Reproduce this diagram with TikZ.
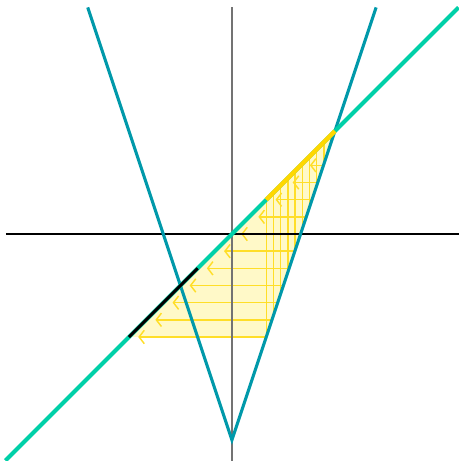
\documentclass[tikz,border=0pt]{standalone}
\usepackage{xcolor}
\usetikzlibrary{arrows.meta}
\definecolor{tealline}{RGB}{0,153,170}
\definecolor{greenline}{RGB}{0,208,168}
\definecolor{goldline}{RGB}{255,215,0}
\definecolor{fillyel}{RGB}{255,249,200}
\definecolor{hatchyel}{RGB}{255,222,40}
\tikzset{
  hatch/.style={hatchyel,line width=0.4pt},
  flow/.style={hatch,-{Straight Barb[length=0.5mm,width=1.3mm]}},
  curve/.style={line width=0.85pt}
}
\begin{document}
\begin{tikzpicture}
    \useasboundingbox (-2.252,-2.204) rectangle (2.204,2.272);
    % --- shaded region between y=x, y=-1 and y=3x-2
    \fill[fillyel] (-1,-1) -- (1/3,-1) -- (1,1) -- cycle;
    \foreach \k in {-6,...,4}
      {\draw[flow] ({(\k/6+2)/3},\k/6) -- ({\k/6+0.09},\k/6);}
    \foreach \i in {0,...,9}
      {\draw[hatch] ({1/3+0.07*\i},{3*(1/3+0.07*\i)-2}) -- ({1/3+0.07*\i},{1/3+0.07*\i});}
    % --- axes
    \draw[black!55,line width=0.35pt] (0,-2.204) -- (0,2.204);
    \draw[black,line width=0.35pt] (-2.194,0) -- (2.204,0);
    % --- the two lines y=-3x-2 and y=3x-2
    \draw[tealline,curve] (-1.4,2.2) -- (0,-2) -- (1.4,2.2);
    % --- diagonal y=x with its marked pieces
    \draw[greenline,line width=1.1pt] (-2.2,-2.2) -- (2.2,2.2);
    \draw[black,curve] (-1,-1) -- (-1/3,-1/3);
    \draw[goldline,line width=1.2pt] (1/3,1/3) -- (1,1);
\end{tikzpicture}
\end{document}
